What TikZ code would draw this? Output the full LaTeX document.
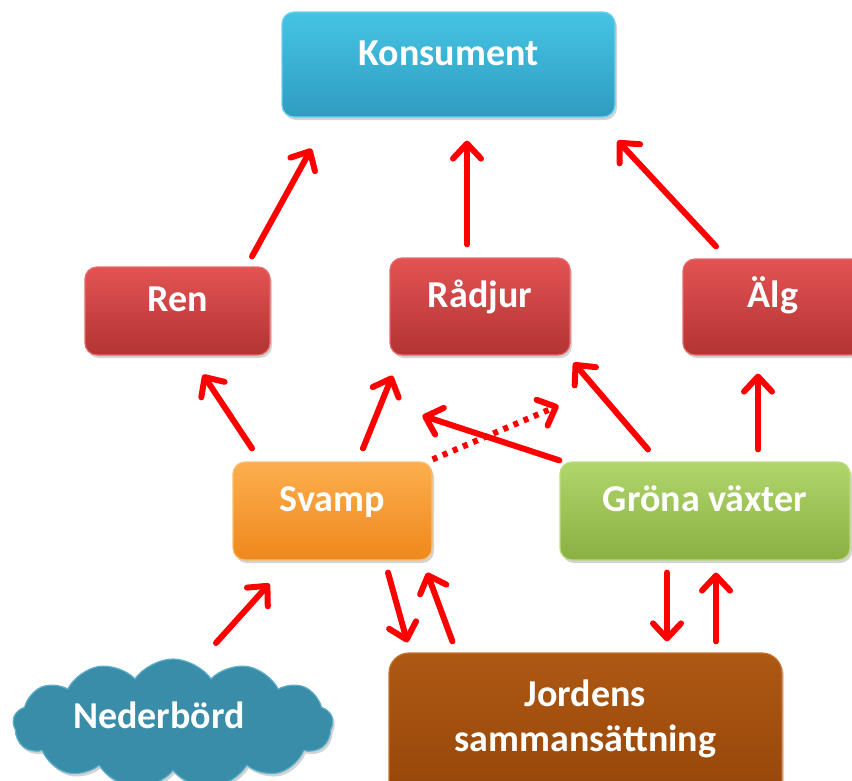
\documentclass[tikz,border=0pt]{standalone}
\usepackage{fontspec}
\setmainfont{Carlito}
\usetikzlibrary{arrows.meta,shapes.symbols,shadows}
\definecolor{konstop}{HTML}{46C4E4}\definecolor{konsbot}{HTML}{2E9CC0}\definecolor{konsedge}{HTML}{6AD4F0}
\definecolor{djurtop}{HTML}{E35353}\definecolor{djurbot}{HTML}{B33333}\definecolor{djuredge}{HTML}{E66A6A}
\definecolor{svamptop}{HTML}{FDAE4E}\definecolor{svampbot}{HTML}{EE881C}\definecolor{svampedge}{HTML}{FBBD70}
\definecolor{vaxttop}{HTML}{B0D66C}\definecolor{vaxtbot}{HTML}{8AB042}\definecolor{vaxtedge}{HTML}{BCDC84}
\definecolor{jordtop}{HTML}{AE5813}\definecolor{jordbot}{HTML}{96460A}\definecolor{jordedge}{HTML}{C4732E}
\definecolor{molnfill}{HTML}{3A8DA8}\definecolor{molnedge}{HTML}{5CB0CA}
\begin{document}
\begin{tikzpicture}[x=1pt,y=-1pt,
  box/.style={rectangle,rounded corners=12pt,line width=1.2pt,text=white,font=\bfseries\fontsize{38}{45}\selectfont,
    text height=0.7em,text depth=0.6em,drop shadow={opacity=0.35,shadow xshift=2pt,shadow yshift=-3pt}},
  konsbox/.style={box,top color=konstop,bottom color=konsbot,draw=konsedge},
  djurbox/.style={box,top color=djurtop,bottom color=djurbot,draw=djuredge},
  svampbox/.style={box,top color=svamptop,bottom color=svampbot,draw=svampedge},
  vaxtbox/.style={box,top color=vaxttop,bottom color=vaxtbot,draw=vaxtedge},
  flow/.style={draw=red,line width=6pt,line cap=round,-{Straight Barb[length=15pt,width=28pt,round]}},
  flowdot/.style={flow,line cap=butt,dash pattern=on 5pt off 6pt}]
\useasboundingbox (0,0) rectangle (852,780);
\clip (0,0) rectangle (852,780);
% rutor
\node[konsbox,minimum width=333pt,minimum height=105pt] (kons) at (448.5,64.5) {Konsument};
\node[djurbox,minimum width=185pt,minimum height=88pt] (ren) at (177.5,311) {Ren};
\node[djurbox,minimum width=180pt,minimum height=97pt] (radjur) at (480,306.5) {Rådjur};
\node[djurbox,minimum width=180pt,minimum height=96pt] (alg) at (773,307) {Älg};
\node[svampbox,minimum width=199pt,minimum height=98pt] (svamp) at (332.5,511) {Svamp};
\node[vaxtbox,minimum width=290pt,minimum height=98pt] (grona) at (705,511) {Gröna växter};
\node[box,rounded corners=20pt,top color=jordtop,bottom color=jordbot,draw=jordedge,minimum width=393pt,minimum height=147pt,text height=,text depth=] (jord) at (585.5,726.5) {};
\node[text=white,font=\bfseries\fontsize{38}{45}\selectfont,align=center] (jordtext) at (585.5,719) {Jordens\\sammansättning};
\node[cloud,cloud puffs=13,cloud puff arc=110,aspect=2.4,minimum width=320pt,minimum height=130pt,fill=molnfill,draw=molnedge,line width=1.2pt,
  drop shadow={opacity=0.35,shadow xshift=2pt,shadow yshift=-3pt}] (moln) at (173,724) {};
\node[text=white,font=\bfseries\fontsize{38}{45}\selectfont] (nederbord) at (159,715) {Nederbörd};
% pilar
\draw[flow] ([shift={(74.5,-10)}]ren.north) -- ([shift={(30,31)}]kons.south west);
\draw[flow] ([shift={(-13,-13)}]radjur.north) -- ([shift={(18.5,23)}]kons.south);
\draw[flow] ([shift={(-57,-12)}]alg.north) -- ([shift={(2,23)}]kons.south east);
\draw[flow] ([shift={(-80.5,-13)}]svamp.north) -- ([shift={(25.5,19)}]ren.south);
\draw[flow] ([shift={(30.5,-13)}]svamp.north) -- ([shift={(3,20)}]radjur.south west);
\draw[flowdot] ([shift={(0,-2)}]svamp.north east) -- ([shift={(-12,50)}]radjur.south east);
\draw[flow] ([shift={(0,-1)}]grona.north west) -- ([shift={(33,60)}]radjur.south west);
\draw[flow] ([shift={(-57,-12)}]grona.north) -- ([shift={(3,7)}]radjur.south east);
\draw[flow] ([shift={(53,-12)}]grona.north) -- ([shift={(-15,18)}]alg.south);
\draw[flow] ([shift={(55.5,12)}]svamp.south) -- ([shift={(19,-10)}]jord.north west);
\draw[flow] ([shift={(64,-11)}]jord.north west) -- ([shift={(94.5,12)}]svamp.south);
\draw[flow] ([shift={(-38,12)}]grona.south) -- ([shift={(81.5,-11)}]jord.north);
\draw[flow] ([shift={(130.5,-11)}]jord.north) -- ([shift={(11,12)}]grona.south);
\draw[flow] ([shift={(43,-81)}]moln.center) -- ([shift={(37,23)}]svamp.south west);
\end{tikzpicture}
\end{document}
